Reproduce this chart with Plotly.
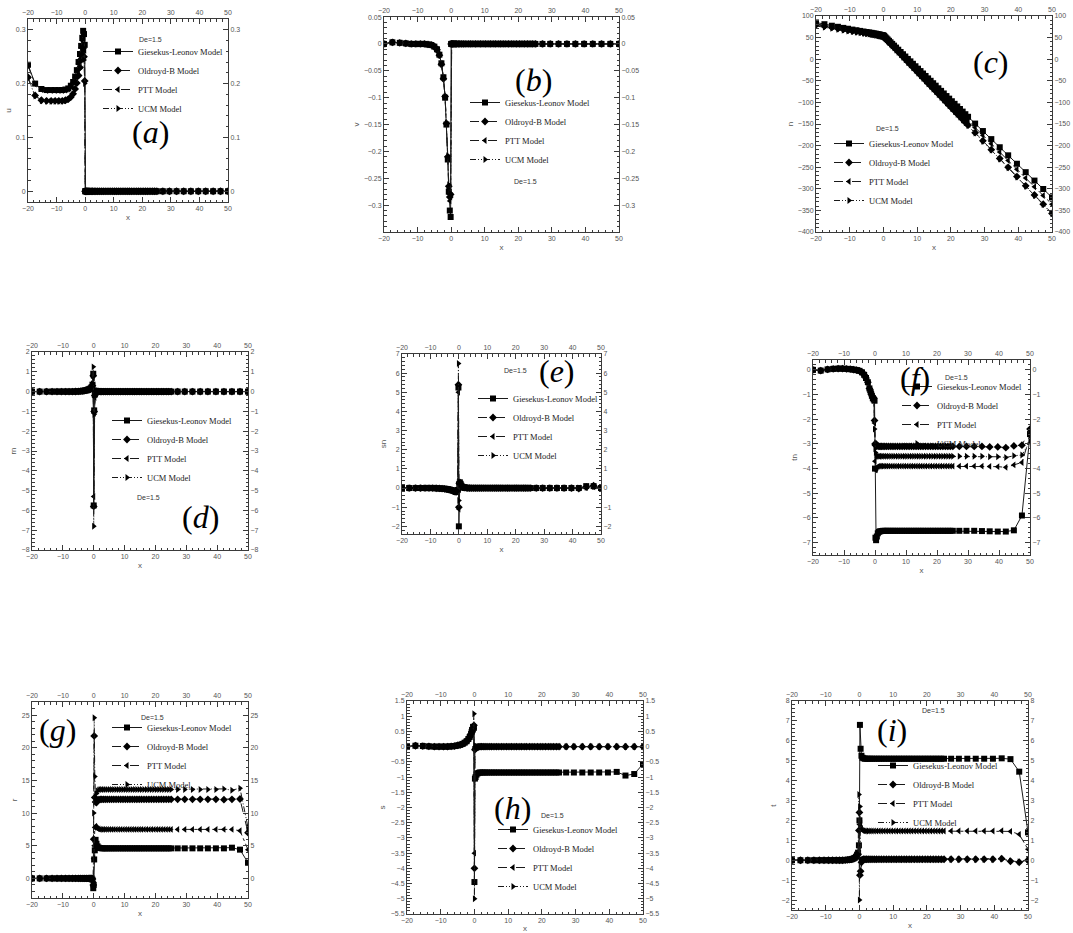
import plotly.graph_objects as go

W, H = 1073, 933

# shared x grid (marker positions)
X = [
    -20, -17.5, -15.3, -13.5, -11.9, -10.5, -9.2, -8.0, -6.9, -5.9,
    -5.0, -4.2, -3.5, -2.9, -2.3, -1.8, -1.4, -1.0, -0.7, -0.4, -0.15,
    0, 0.15, 0.35, 0.6, 0.9, 1.25, 1.65, 2.1, 2.6, 3.15,
    3.75, 4.4, 5.1, 5.8, 6.5, 7.25, 8.0, 8.75, 9.5, 10.25,
    11.0, 11.75, 12.5, 13.25, 14.0, 14.75, 15.5, 16.3, 17.1, 17.9,
    18.7, 19.5, 20.3, 21.1, 21.9, 22.7, 23.5, 24.3, 25.1,
    27.2, 29.5, 32.0, 34.5, 37.0, 39.6, 42.2, 44.8, 47.4, 50.0,
]

# ---------------- (a) u ----------------
u_gl = [0.235, 0.200, 0.190, 0.188, 0.188, 0.188, 0.188, 0.188, 0.189, 0.191,
        0.196, 0.203, 0.213, 0.225, 0.240, 0.255, 0.270, 0.285, 0.298, 0.292, 0.272,
        0, 0, 0, 0, 0, 0, 0, 0, 0, 0,
        0, 0, 0, 0, 0, 0, 0, 0, 0, 0,
        0, 0, 0, 0, 0, 0, 0, 0, 0, 0,
        0, 0, 0, 0, 0, 0, 0, 0, 0,
        0, 0, 0, 0, 0, 0, 0, 0, 0, 0]
u_ob = [0.212, 0.178, 0.169, 0.168, 0.168, 0.168, 0.168, 0.168, 0.169, 0.171,
        0.175, 0.181, 0.190, 0.201, 0.215, 0.230, 0.245, 0.258, 0.266, 0.250, 0.205,
        0, 0, 0, 0, 0, 0, 0, 0, 0, 0,
        0, 0, 0, 0, 0, 0, 0, 0, 0, 0,
        0, 0, 0, 0, 0, 0, 0, 0, 0, 0,
        0, 0, 0, 0, 0, 0, 0, 0, 0,
        0, 0, 0, 0, 0, 0, 0, 0, 0, 0]
u_ptt = [0.233, 0.199, 0.189, 0.187, 0.187, 0.187, 0.187, 0.187, 0.188, 0.190,
         0.195, 0.202, 0.212, 0.224, 0.238, 0.253, 0.267, 0.280, 0.290, 0.283, 0.262,
         0, 0, 0, 0, 0, 0, 0, 0, 0, 0,
         0, 0, 0, 0, 0, 0, 0, 0, 0, 0,
         0, 0, 0, 0, 0, 0, 0, 0, 0, 0,
         0, 0, 0, 0, 0, 0, 0, 0, 0,
         0, 0, 0, 0, 0, 0, 0, 0, 0, 0]
u_ucm = [0.210, 0.177, 0.168, 0.167, 0.167, 0.167, 0.167, 0.167, 0.168, 0.170,
         0.174, 0.180, 0.189, 0.200, 0.213, 0.228, 0.242, 0.255, 0.262, 0.244, 0.200,
         0, 0, 0, 0, 0, 0, 0, 0, 0, 0,
         0, 0, 0, 0, 0, 0, 0, 0, 0, 0,
         0, 0, 0, 0, 0, 0, 0, 0, 0, 0,
         0, 0, 0, 0, 0, 0, 0, 0, 0,
         0, 0, 0, 0, 0, 0, 0, 0, 0, 0]

# ---------------- (b) v ----------------
v_gl = [0, 0.003, 0.002, 0.001, 0, 0, 0, 0, -0.001, -0.002,
        -0.005, -0.010, -0.020, -0.036, -0.062, -0.100, -0.150, -0.215, -0.275, -0.310, -0.322,
        0, 0, 0, 0, 0, 0, 0, 0, 0, 0,
        0, 0, 0, 0, 0, 0, 0, 0, 0, 0,
        0, 0, 0, 0, 0, 0, 0, 0, 0, 0,
        0, 0, 0, 0, 0, 0, 0, 0, 0,
        0, 0, 0, 0, 0, 0, 0, 0, 0, 0]
v_ob = [0, 0.003, 0.002, 0.001, 0, 0, 0, 0, -0.001, -0.002,
        -0.005, -0.011, -0.021, -0.038, -0.065, -0.098, -0.148, -0.210, -0.265, -0.285, -0.280,
        0, 0, 0, 0, 0, 0, 0, 0, 0, 0,
        0, 0, 0, 0, 0, 0, 0, 0, 0, 0,
        0, 0, 0, 0, 0, 0, 0, 0, 0, 0,
        0, 0, 0, 0, 0, 0, 0, 0, 0,
        0, 0, 0, 0, 0, 0, 0, 0, 0, 0]
v_ptt = [0, 0.003, 0.002, 0.001, 0, 0, 0, 0, -0.001, -0.002,
         -0.005, -0.010, -0.020, -0.037, -0.063, -0.099, -0.149, -0.212, -0.270, -0.292, -0.285,
         0, 0, 0, 0, 0, 0, 0, 0, 0, 0,
         0, 0, 0, 0, 0, 0, 0, 0, 0, 0,
         0, 0, 0, 0, 0, 0, 0, 0, 0, 0,
         0, 0, 0, 0, 0, 0, 0, 0, 0,
         0, 0, 0, 0, 0, 0, 0, 0, 0, 0]
v_ucm = [0, 0.003, 0.002, 0.001, 0, 0, 0, 0, -0.001, -0.002,
         -0.005, -0.011, -0.021, -0.038, -0.064, -0.098, -0.147, -0.208, -0.262, -0.282, -0.278,
         0, 0, 0, 0, 0, 0, 0, 0, 0, 0,
         0, 0, 0, 0, 0, 0, 0, 0, 0, 0,
         0, 0, 0, 0, 0, 0, 0, 0, 0, 0,
         0, 0, 0, 0, 0, 0, 0, 0, 0,
         0, 0, 0, 0, 0, 0, 0, 0, 0, 0]

# ---------------- (c) n ----------------
n_gl = [85, 81, 77.5, 75, 72.5, 70.5, 68.5, 67, 65.5, 64,
        63, 62, 61, 60, 59.2, 58.4, 57.6, 56.8, 56.2, 55.6, 55.2,
        55, 53.9, 52.4, 50.5, 48.2, 45.6, 42.6, 39.2, 35.5, 31.4,
        26.9, 22, 16.7, 11.5, 6.2, 0.6, -5, -10.6, -16.3, -21.9,
        -27.5, -33.1, -38.8, -44.4, -50, -55.6, -61.3, -67.3, -73.3, -79.3,
        -85.3, -91.3, -97.3, -103.3, -109.3, -115.3, -121.3, -127.3, -133.3,
        -149, -166.3, -185, -203.8, -222.5, -242, -261.5, -281, -300.5, -320]
n_ob = [80, 76.5, 73.5, 71, 69, 67, 65.3, 63.8, 62.5, 61.2,
        60.2, 59.2, 58.3, 57.5, 56.7, 56, 55.3, 54.6, 54, 53.5, 53.2,
        53, 51.8, 50.1, 48.1, 45.6, 42.7, 39.5, 35.8, 31.7, 27.2,
        22.2, 16.9, 11.2, 5.4, -0.3, -6.5, -12.6, -18.8, -24.9, -31.1,
        -37.2, -43.4, -49.5, -55.7, -61.8, -68, -74.1, -80.7, -87.2, -93.8,
        -100.3, -106.9, -113.5, -120, -126.6, -133.1, -139.7, -146.3, -152.8,
        -170, -188.9, -209.4, -229.9, -250.4, -271.7, -293, -314.4, -335.7, -357]
n_ptt = [82, 78.5, 75.5, 73, 71, 69, 67.2, 65.7, 64.3, 63,
         62, 61, 60, 59.2, 58.4, 57.6, 56.9, 56.1, 55.4, 54.8, 54.3,
         54, 52.8, 51.3, 49.3, 47, 44.3, 41.1, 37.6, 33.7, 29.4,
         24.7, 19.7, 14.2, 8.8, 3.3, -2.6, -8.4, -14.3, -20.1, -26,
         -31.8, -37.7, -43.5, -49.4, -55.2, -61.1, -66.9, -73.1, -79.4, -85.6,
         -91.9, -98.1, -104.3, -110.6, -116.8, -123.1, -129.3, -135.5, -141.8,
         -158.2, -176.1, -195.6, -215.1, -234.6, -254.9, -275.2, -295.4, -315.7, -336]
n_ucm = [77, 74, 71.3, 69, 67, 65.3, 63.8, 62.4, 61.1, 60,
         59, 58.1, 57.2, 56.4, 55.6, 54.9, 54.2, 53.6, 53.1, 52.6, 52.3,
         52, 50.8, 49.1, 47.1, 44.6, 41.7, 38.5, 34.8, 30.7, 26.2,
         21.2, 15.9, 10.2, 4.4, -1.3, -7.5, -13.6, -19.8, -25.9, -32.1,
         -38.2, -44.4, -50.5, -56.7, -62.8, -69, -75.1, -81.7, -88.2, -94.8,
         -101.3, -107.9, -114.5, -121, -127.6, -134.1, -140.7, -147.3, -153.8,
         -171, -189.9, -210.4, -230.9, -251.4, -272.7, -294, -315.4, -336.7, -358]

# ---------------- (d) rn ----------------
rn_gl = [0, 0, 0, 0, 0, 0, 0, 0, 0, 0.005,
         0.01, 0.02, 0.03, 0.05, 0.07, 0.09, 0.12, 0.16, 0.22, 0.35, 0.90,
         -5.75, -0.95, -0.15, 0.03, 0.02, 0.01, 0.01, 0, 0, 0,
         0, 0, 0, 0, 0, 0, 0, 0, 0, 0,
         0, 0, 0, 0, 0, 0, 0, 0, 0, 0,
         0, 0, 0, 0, 0, 0, 0, 0, 0,
         0, 0, 0, 0, 0, 0, 0, 0, 0, 0]
rn_ob = [0, 0, 0, 0, 0, 0, 0, 0, 0, 0.005,
         0.01, 0.02, 0.03, 0.05, 0.07, 0.09, 0.12, 0.15, 0.20, 0.30, 0.80,
         -5.80, -1.00, -0.20, 0.02, 0.02, 0.01, 0.01, 0, 0, 0,
         0, 0, 0, 0, 0, 0, 0, 0, 0, 0,
         0, 0, 0, 0, 0, 0, 0, 0, 0, 0,
         0, 0, 0, 0, 0, 0, 0, 0, 0,
         0, 0, 0, 0, 0, 0, 0, 0, 0, 0]
rn_ptt = [0, 0, 0, 0, 0, 0, 0, 0, 0, 0.005,
          0.01, 0.02, 0.03, 0.04, 0.06, 0.08, 0.10, 0.13, 0.18, 0.28, 0.70,
          -5.30, -1.10, -0.30, 0.01, 0.01, 0.01, 0, 0, 0, 0,
          0, 0, 0, 0, 0, 0, 0, 0, 0, 0,
          0, 0, 0, 0, 0, 0, 0, 0, 0, 0,
          0, 0, 0, 0, 0, 0, 0, 0, 0,
          0, 0, 0, 0, 0, 0, 0, 0, 0, 0]
rn_ucm = [0, 0, 0, 0, 0, 0, 0, 0, 0, 0.005,
          0.01, 0.02, 0.04, 0.06, 0.09, 0.12, 0.15, 0.19, 0.25, 0.40, 1.25,
          -6.80, -1.15, -0.20, 0.02, 0.02, 0.01, 0.01, 0, 0, 0,
          0, 0, 0, 0, 0, 0, 0, 0, 0, 0,
          0, 0, 0, 0, 0, 0, 0, 0, 0, 0,
          0, 0, 0, 0, 0, 0, 0, 0, 0,
          0, 0, 0, 0, 0, 0, 0, 0, 0, 0]

# ---------------- (e) sn ----------------
sn_gl = [0, 0, 0, 0, 0, 0, 0, -0.01, -0.02, -0.03,
         -0.04, -0.06, -0.08, -0.10, -0.12, -0.15, -0.18, -0.20, -0.18, -0.10, 5.25,
         -2.00, 0.20, 0.30, 0.22, 0.12, 0.06, 0.03, 0.02, 0.01, 0.01,
         0, 0, 0, 0, 0, 0, 0, 0, 0, 0,
         0, 0, 0, 0, 0, 0, 0, 0, 0, 0,
         0, 0, 0, 0, 0, 0, 0, 0, 0,
         0, 0, 0, 0, 0, 0, 0, 0.10, 0.10, 0]
sn_ob = [0, 0, 0, 0, 0, 0, 0, -0.01, -0.02, -0.03,
         -0.04, -0.06, -0.08, -0.10, -0.12, -0.15, -0.18, -0.20, -0.18, -0.12, 5.40,
         -1.00, 0.25, 0.30, 0.20, 0.10, 0.05, 0.03, 0.02, 0.01, 0,
         0, 0, 0, 0, 0, 0, 0, 0, 0, 0,
         0, 0, 0, 0, 0, 0, 0, 0, 0, 0,
         0, 0, 0, 0, 0, 0, 0, 0, 0,
         0, 0, 0, 0, 0, 0, -0.03, 0.05, 0.12, 0]
sn_ptt = [0, 0, 0, 0, 0, 0, 0, -0.01, -0.02, -0.03,
          -0.04, -0.06, -0.08, -0.10, -0.12, -0.15, -0.18, -0.20, -0.18, -0.10, 5.00,
          -1.10, 0.18, 0.25, 0.18, 0.10, 0.05, 0.03, 0.02, 0.01, 0,
          0, 0, 0, 0, 0, 0, 0, 0, 0, 0,
          0, 0, 0, 0, 0, 0, 0, 0, 0, 0,
          0, 0, 0, 0, 0, 0, 0, 0, 0,
          0, 0, 0, 0, 0, 0, 0, 0.03, 0.06, 0]
sn_ucm = [0, 0, 0, 0, 0, 0, 0, -0.01, -0.02, -0.03,
          -0.04, -0.06, -0.08, -0.10, -0.12, -0.15, -0.18, -0.20, -0.18, -0.15, 6.50,
          -0.65, 0.30, 0.28, 0.18, 0.10, 0.05, 0.03, 0.02, 0.01, 0,
          0, 0, 0, 0, 0, 0, 0, 0, 0, 0,
          0, 0, 0, 0, 0, 0, 0, 0, 0, 0,
          0, 0, 0, 0, 0, 0, 0, 0, 0,
          0, 0, 0, 0, 0, 0, 0, 0.04, 0.08, 0]

# ---------------- (f) tn ----------------
tn_gl = [0.00, -0.03, 0.02, 0.04, 0.05, 0.05, 0.04, 0.03, 0.01, -0.01,
         -0.04, -0.10, -0.20, -0.33, -0.50, -0.75, -0.90, -1.05, -1.15, -1.20, -1.25,
         -4.00, -6.80, -6.90, -6.75, -6.62, -6.56, -6.54, -6.53, -6.52, -6.52,
         -6.52, -6.52, -6.52, -6.52, -6.52, -6.52, -6.52, -6.52, -6.52, -6.52,
         -6.52, -6.52, -6.52, -6.52, -6.52, -6.52, -6.52, -6.52, -6.52, -6.52,
         -6.52, -6.52, -6.52, -6.52, -6.52, -6.52, -6.52, -6.52, -6.52,
         -6.52, -6.52, -6.52, -6.53, -6.54, -6.55, -6.55, -6.50, -5.90, -2.60]
tn_ob = [0.00, -0.03, 0.02, 0.04, 0.05, 0.05, 0.04, 0.03, 0.01, -0.01,
         -0.04, -0.10, -0.20, -0.33, -0.50, -0.75, -0.90, -1.05, -1.12, -1.15, -2.05,
         -3.00, -3.05, -3.00, -3.05, -3.08, -3.10, -3.10, -3.10, -3.10, -3.10,
         -3.10, -3.10, -3.10, -3.10, -3.10, -3.10, -3.10, -3.10, -3.10, -3.10,
         -3.10, -3.10, -3.10, -3.10, -3.10, -3.10, -3.10, -3.10, -3.10, -3.10,
         -3.10, -3.10, -3.10, -3.10, -3.10, -3.10, -3.10, -3.10, -3.10,
         -3.10, -3.10, -3.10, -3.10, -3.12, -3.12, -3.15, -3.08, -3.05, -2.40]
tn_ptt = [0.00, -0.03, 0.02, 0.04, 0.05, 0.05, 0.04, 0.03, 0.01, -0.01,
          -0.04, -0.10, -0.20, -0.33, -0.50, -0.75, -0.90, -1.05, -1.12, -1.15, -2.15,
          -3.70, -4.05, -4.05, -3.95, -3.92, -3.90, -3.90, -3.90, -3.90, -3.90,
          -3.90, -3.90, -3.90, -3.90, -3.90, -3.90, -3.90, -3.90, -3.90, -3.90,
          -3.90, -3.90, -3.90, -3.90, -3.90, -3.90, -3.90, -3.90, -3.90, -3.90,
          -3.90, -3.90, -3.90, -3.90, -3.90, -3.90, -3.90, -3.90, -3.90,
          -3.90, -3.90, -3.90, -3.90, -3.91, -3.92, -3.95, -3.85, -3.75, -2.70]
tn_ucm = [0.00, -0.03, 0.02, 0.04, 0.05, 0.05, 0.04, 0.03, 0.01, -0.01,
          -0.04, -0.10, -0.20, -0.33, -0.50, -0.75, -0.90, -1.05, -1.12, -1.15, -2.40,
          -3.20, -3.35, -3.45, -3.50, -3.50, -3.50, -3.50, -3.50, -3.50, -3.50,
          -3.50, -3.50, -3.50, -3.50, -3.50, -3.50, -3.50, -3.50, -3.50, -3.50,
          -3.50, -3.50, -3.50, -3.50, -3.50, -3.50, -3.50, -3.50, -3.50, -3.50,
          -3.50, -3.50, -3.50, -3.50, -3.50, -3.50, -3.50, -3.50, -3.50,
          -3.50, -3.50, -3.50, -3.50, -3.52, -3.52, -3.55, -3.48, -3.45, -2.90]

# ---------------- (g) r ----------------
r_gl = [0, 0, 0, 0, 0, 0, 0, 0, 0, 0,
        0, 0, 0, 0, 0, 0, 0, 0, 0, -0.20, -1.50,
        -1.00, 2.90, 4.30, 5.90, 5.30, 4.90, 4.70, 4.65, 4.60, 4.60,
        4.60, 4.60, 4.60, 4.60, 4.60, 4.60, 4.60, 4.60, 4.60, 4.60,
        4.60, 4.60, 4.60, 4.60, 4.60, 4.60, 4.60, 4.60, 4.60, 4.60,
        4.60, 4.60, 4.60, 4.60, 4.60, 4.60, 4.60, 4.60, 4.60,
        4.60, 4.60, 4.60, 4.60, 4.60, 4.60, 4.60, 4.70, 4.40, 2.40]
r_ob = [0, 0, 0, 0, 0, 0, 0, 0, 0, 0,
        0, 0, 0, 0, 0, 0, 0, 0, 0, -0.10, -1.00,
        6.00, 21.80, 12.40, 11.70, 11.60, 11.90, 12.05, 12.10, 12.10, 12.10,
        12.10, 12.10, 12.10, 12.10, 12.10, 12.10, 12.10, 12.10, 12.10, 12.10,
        12.10, 12.10, 12.10, 12.10, 12.10, 12.10, 12.10, 12.10, 12.10, 12.10,
        12.10, 12.10, 12.10, 12.10, 12.10, 12.10, 12.10, 12.10, 12.10,
        12.10, 12.10, 12.10, 12.10, 12.10, 12.10, 12.05, 12.10, 12.15, 7.00]
r_ptt = [0, 0, 0, 0, 0, 0, 0, 0, 0, 0,
         0, 0, 0, 0, 0, 0, 0, 0, 0, -0.10, -1.20,
         3.00, 5.00, 7.80, 8.00, 7.80, 7.65, 7.55, 7.50, 7.50, 7.50,
         7.50, 7.50, 7.50, 7.50, 7.50, 7.50, 7.50, 7.50, 7.50, 7.50,
         7.50, 7.50, 7.50, 7.50, 7.50, 7.50, 7.50, 7.50, 7.50, 7.50,
         7.50, 7.50, 7.50, 7.50, 7.50, 7.50, 7.50, 7.50, 7.50,
         7.50, 7.50, 7.50, 7.50, 7.50, 7.50, 7.50, 7.50, 7.30, 4.40]
r_ucm = [0, 0, 0, 0, 0, 0, 0, 0, 0, 0,
         0, 0, 0, 0, 0, 0, 0, 0, 0, 0, -0.50,
         10.00, 24.60, 15.60, 12.40, 13.00, 13.40, 13.55, 13.60, 13.60, 13.60,
         13.60, 13.60, 13.60, 13.60, 13.60, 13.60, 13.60, 13.60, 13.60, 13.60,
         13.60, 13.60, 13.60, 13.60, 13.60, 13.60, 13.60, 13.60, 13.60, 13.60,
         13.60, 13.60, 13.60, 13.60, 13.60, 13.60, 13.60, 13.60, 13.60,
         13.60, 13.60, 13.60, 13.60, 13.60, 13.60, 13.70, 13.50, 13.80, 7.80]

# ---------------- (h) s ----------------
s_gl = [0, 0.03, 0.02, 0.01, 0, 0, 0, 0, 0.01, 0.02,
        0.04, 0.06, 0.09, 0.13, 0.18, 0.25, 0.32, 0.42, 0.55, 0.65, 0.62,
        -4.45, -1.05, -1.00, -0.92, -0.88, -0.86, -0.85, -0.85, -0.85, -0.85,
        -0.85, -0.85, -0.85, -0.85, -0.85, -0.85, -0.85, -0.85, -0.85, -0.85,
        -0.85, -0.85, -0.85, -0.85, -0.85, -0.85, -0.85, -0.85, -0.85, -0.85,
        -0.85, -0.85, -0.85, -0.85, -0.85, -0.85, -0.85, -0.85, -0.85,
        -0.85, -0.85, -0.85, -0.85, -0.85, -0.85, -0.83, -0.95, -0.90, -0.57]
s_ob = [0, 0.03, 0.02, 0.01, 0, 0, 0, 0, 0.01, 0.02,
        0.04, 0.06, 0.09, 0.13, 0.18, 0.25, 0.32, 0.42, 0.55, 0.60, 0.70,
        -4.00, -0.10, -0.05, -0.03, -0.02, -0.01, 0, 0, 0, 0,
        0, 0, 0, 0, 0, 0, 0, 0, 0, 0,
        0, 0, 0, 0, 0, 0, 0, 0, 0, 0,
        0, 0, 0, 0, 0, 0, 0, 0, 0,
        0, 0, 0, 0, 0, 0, 0, 0, 0, 0]
s_ptt = [0, 0.03, 0.02, 0.01, 0, 0, 0, 0, 0.01, 0.02,
         0.04, 0.06, 0.09, 0.12, 0.17, 0.23, 0.30, 0.38, 0.48, 0.50, 0.55,
         -3.50, 0.00, -0.02, -0.02, -0.01, 0, 0, 0, 0, 0,
         0, 0, 0, 0, 0, 0, 0, 0, 0, 0,
         0, 0, 0, 0, 0, 0, 0, 0, 0, 0,
         0, 0, 0, 0, 0, 0, 0, 0, 0,
         0, 0, 0, 0, 0, 0, 0, 0, 0, 0]
s_ucm = [0, 0.03, 0.02, 0.01, 0, 0, 0, 0, 0.01, 0.02,
         0.04, 0.06, 0.09, 0.13, 0.18, 0.25, 0.33, 0.42, 0.45, 0.50, 1.08,
         -5.00, 0.05, 0.00, -0.02, -0.01, 0, 0, 0, 0, 0,
         0, 0, 0, 0, 0, 0, 0, 0, 0, 0,
         0, 0, 0, 0, 0, 0, 0, 0, 0, 0,
         0, 0, 0, 0, 0, 0, 0, 0, 0,
         0, 0, 0, 0, 0, 0, 0, 0, 0, 0]

# ---------------- (i) t ----------------
t_gl = [0, 0, 0, 0, 0, 0, 0, 0, 0, 0,
        0, 0.01, 0.02, 0.03, 0.05, 0.08, 0.12, 0.18, 0.28, 0.38, 0.75,
        2.00, 6.80, 5.60, 5.25, 5.15, 5.12, 5.10, 5.10, 5.10, 5.10,
        5.10, 5.10, 5.10, 5.10, 5.10, 5.10, 5.10, 5.10, 5.10, 5.10,
        5.10, 5.10, 5.10, 5.10, 5.10, 5.10, 5.10, 5.10, 5.10, 5.10,
        5.10, 5.10, 5.10, 5.10, 5.10, 5.10, 5.10, 5.10, 5.10,
        5.10, 5.10, 5.10, 5.10, 5.10, 5.10, 5.12, 5.08, 4.45, 1.40]
t_ob = [0, 0, 0, 0, 0, 0, 0, 0, 0, 0,
        0, 0.01, 0.02, 0.03, 0.05, 0.08, 0.12, 0.18, 0.26, 0.30, 1.50,
        2.40, -0.75, -0.55, -0.10, 0.03, 0.05, 0.05, 0.05, 0.05, 0.05,
        0.05, 0.05, 0.05, 0.05, 0.05, 0.05, 0.05, 0.05, 0.05, 0.05,
        0.05, 0.05, 0.05, 0.05, 0.05, 0.05, 0.05, 0.05, 0.05, 0.05,
        0.05, 0.05, 0.05, 0.05, 0.05, 0.05, 0.05, 0.05, 0.05,
        0.05, 0.05, 0.05, 0.05, 0.05, 0.05, 0.08, -0.05, -0.10, 0.00]
t_ptt = [0, 0, 0, 0, 0, 0, 0, 0, 0, 0,
         0, 0.01, 0.02, 0.03, 0.05, 0.08, 0.12, 0.18, 0.26, 0.35, 1.50,
         1.80, 2.00, 1.85, 1.60, 1.50, 1.48, 1.47, 1.47, 1.47, 1.47,
         1.47, 1.47, 1.47, 1.47, 1.47, 1.47, 1.47, 1.47, 1.47, 1.47,
         1.47, 1.47, 1.47, 1.47, 1.47, 1.47, 1.47, 1.47, 1.47, 1.47,
         1.47, 1.47, 1.47, 1.47, 1.47, 1.47, 1.47, 1.47, 1.47,
         1.47, 1.47, 1.47, 1.47, 1.47, 1.47, 1.48, 1.45, 1.30, 0.55]
t_ucm = [0, 0, 0, 0, 0, 0, 0, 0, 0, 0,
         0, 0.01, 0.02, 0.03, 0.05, 0.08, 0.12, 0.18, 0.26, 0.30, 3.30,
         -2.00, 2.70, 0.00, 0.03, 0.04, 0.04, 0.04, 0.04, 0.04, 0.04,
         0.04, 0.04, 0.04, 0.04, 0.04, 0.04, 0.04, 0.04, 0.04, 0.04,
         0.04, 0.04, 0.04, 0.04, 0.04, 0.04, 0.04, 0.04, 0.04, 0.04,
         0.04, 0.04, 0.04, 0.04, 0.04, 0.04, 0.04, 0.04, 0.04,
         0.04, 0.04, 0.04, 0.04, 0.04, 0.04, 0.06, -0.03, -0.08, 0.02]

MODELS = ["Giesekus-Leonov Model", "Oldroyd-B Model", "PTT Model", "UCM Model"]

# ---------------- styling / layout (positions in pixels) ----------------
SYMBOLS = ["square", "diamond", "triangle-left", "triangle-right"]
MSIZES = [6, 6, 6, 6]
DASHES = ["solid", "dash", "dashdot", "6px,2px,1px,2px,1px,2px"]
AX = "#3a3a3a"
TICKFONT = dict(family="Liberation Sans, Arial, sans-serif", size=7, color="#555")

PANELS = [
    dict(tag="a", ys=[u_gl, u_ob, u_ptt, u_ucm], yt="u", yr=[-0.02, 0.32], dt=0.1, mn=0.02,
         box=(28, 19, 228, 202), leg=(98, 80), lab=(150, 132), de=(150, 39)),
    dict(tag="b", ys=[v_gl, v_ob, v_ptt, v_ucm], yt="v", yr=[-0.3499, 0.0501], dt=0.05, mn=0.01,
         box=(384, 17, 619, 232), leg=(465, 131), lab=(533, 80), de=(525, 181)),
    dict(tag="c", ys=[n_gl, n_ob, n_ptt, n_ucm], yt="n", yr=[-400, 100], dt=50, mn=10,
         box=(816, 16, 1052, 232), leg=(829, 172), lab=(991, 62), de=(887, 128)),
    dict(tag="d", ys=[rn_gl, rn_ob, rn_ptt, rn_ucm], yt="rn", yr=[-8, 2], dt=1, mn=0.2,
         box=(32, 352, 248, 550), leg=(107, 449), lab=(200, 517), de=(148, 497)),
    dict(tag="e", ys=[sn_gl, sn_ob, sn_ptt, sn_ucm], yt="sn", yr=[-2.4, 7], dt=1, mn=0.2,
         box=(402, 354, 601, 534), leg=(473, 427), lab=(557, 371), de=(515, 371)),
    dict(tag="f", ys=[tn_gl, tn_ob, tn_ptt, tn_ucm], yt="tn", yr=[-7.5, 0.4], dt=1, mn=0.2,
         box=(813, 360, 1030, 555), leg=(897, 415), lab=(915, 378), de=(956, 378)),
    dict(tag="g", ys=[r_gl, r_ob, r_ptt, r_ucm], yt="r", yr=[-3, 27], dt=5, mn=1,
         box=(32, 702, 248, 898), leg=(107, 756), lab=(57, 730), de=(152, 717)),
    dict(tag="h", ys=[s_gl, s_ob, s_ptt, s_ucm], yt="s", yr=[-5.5, 1.5], dt=0.5, mn=0.1,
         box=(407, 701, 643, 914), leg=(493, 858), lab=(512, 808), de=(552, 815)),
    dict(tag="i", ys=[t_gl, t_ob, t_ptt, t_ucm], yt="t", yr=[-2.5, 8], dt=1, mn=0.2,
         box=(792, 701, 1028, 910), leg=(873, 794), lab=(892, 730), de=(933, 710)),
]


def ax_common(rng, dt, mn):
    return dict(
        range=rng, tick0=0, dtick=dt, showgrid=False, zeroline=False,
        showline=True, linecolor=AX, linewidth=1, ticks="inside", ticklen=5,
        tickwidth=1, tickcolor=AX, tickfont=TICKFONT, automargin=False,
        minor=dict(ticks="inside", ticklen=2.5, tickwidth=1, tickcolor=AX,
                   tick0=0, dtick=mn, showgrid=False),
    )


fig = go.Figure()
layout = dict(width=W, height=H, margin=dict(l=0, r=0, t=0, b=0),
              template="none", paper_bgcolor="white", plot_bgcolor="rgba(0,0,0,0)",
              hovermode=False, annotations=[], showlegend=True)

for k, p in enumerate(PANELS, start=1):
    m, o = 2 * k - 1, 2 * k
    xm = "x" if m == 1 else f"x{m}"
    ym = "y" if m == 1 else f"y{m}"
    xo, yo = f"x{o}", f"y{o}"
    leg_name = "legend" if k == 1 else f"legend{k}"
    l, t, r, b = p["box"]
    xdom = [l / W, r / W]
    ydom = [1 - b / H, 1 - t / H]

    layout["xaxis" if m == 1 else f"xaxis{m}"] = dict(
        ax_common([-20, 50], 10, 2), domain=xdom, anchor=ym, side="bottom",
        title=dict(text="x", font=dict(family="Liberation Sans, Arial", size=8, color="#555"), standoff=2))
    layout["yaxis" if m == 1 else f"yaxis{m}"] = dict(
        ax_common(p["yr"], p["dt"], p["mn"]), domain=ydom, anchor=xm, side="left",
        title=dict(text=p["yt"], font=dict(family="Liberation Sans, Arial", size=8, color="#555"), standoff=3))
    layout[f"xaxis{o}"] = dict(ax_common([-20, 50], 10, 2), overlaying=xm, anchor=ym, side="top")
    layout[f"yaxis{o}"] = dict(ax_common(p["yr"], p["dt"], p["mn"]), overlaying=ym, anchor=xm, side="right")

    for j in range(4):
        fig.add_trace(go.Scatter(
            x=X, y=p["ys"][j], name=MODELS[j], mode="lines+markers",
            xaxis=xm, yaxis=ym, legend=leg_name,
            line=dict(color="#1a1a1a", width=1, dash=DASHES[j]),
            marker=dict(symbol=SYMBOLS[j], size=MSIZES[j], color="black", line=dict(width=0)),
        ))
    # empty trace so the mirrored (top / right) labelled axes are drawn
    fig.add_trace(go.Scatter(x=[], y=[], xaxis=xo, yaxis=yo, showlegend=False, hoverinfo="skip"))

    lx, ly = p["leg"]
    layout[leg_name] = dict(
        x=lx / W, y=1 - ly / H, xanchor="left", yanchor="middle", xref="paper", yref="paper",
        bgcolor="rgba(0,0,0,0)", borderwidth=0, tracegroupgap=0, itemwidth=30,
        font=dict(family="Liberation Serif, Times New Roman, serif", size=8.5, color="#222"),
    )

    ax_, ay_ = p["lab"]
    layout["annotations"].append(dict(
        text=f"(<i>{p['tag']}</i>)", x=ax_ / W, y=1 - ay_ / H, xref="paper", yref="paper",
        xanchor="center", yanchor="middle", showarrow=False,
        font=dict(family="Liberation Serif, Times New Roman, serif", size=32, color="black")))
    dx, dy = p["de"]
    layout["annotations"].append(dict(
        text="De=1.5", x=dx / W, y=1 - dy / H, xref="paper", yref="paper",
        xanchor="center", yanchor="middle", showarrow=False,
        font=dict(family="Liberation Sans, Arial", size=7, color="#333")))

fig.update_layout(**layout)
fig.write_html("out.html", config={"displayModeBar": False},
               post_script="document.body.style.margin='0';")
